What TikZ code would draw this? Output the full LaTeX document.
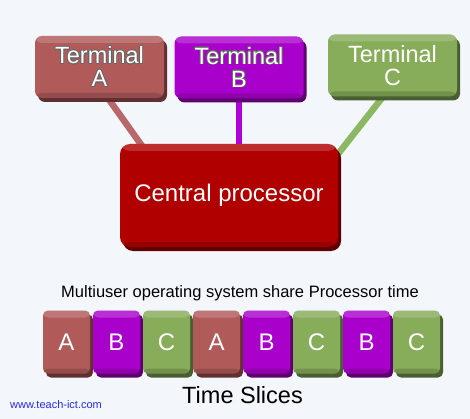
\documentclass[tikz,border=0pt]{standalone}
\usepackage{fontspec}
\setmainfont{Liberation Sans}
\usepackage{contour}
\contourlength{0.7pt}
\usetikzlibrary{shadows,calc}
\pgfdeclarelayer{background}
\pgfsetlayers{background,main}
\definecolor{bgcol}{RGB}{243,247,252}
\definecolor{termA}{RGB}{176,90,90}
\definecolor{termB}{RGB}{170,0,204}
\definecolor{termC}{RGB}{135,172,90}
\definecolor{cpured}{RGB}{176,0,0}
\definecolor{linkA}{RGB}{184,104,104}
\definecolor{linkB}{RGB}{176,0,216}
\definecolor{linkC}{RGB}{140,184,100}
\definecolor{urlblue}{RGB}{40,40,240}
\newcommand\outl[1]{\contour{black!60}{#1}}
\tikzset{
  bevel/.style={fill=#1,draw=none,text=white,
    general shadow={fill=#1!55!black,shadow xshift=3pt,shadow yshift=-4pt},
    path picture={
      \fill[white,opacity=.18] (path picture bounding box.north west) rectangle ([yshift=-7pt]path picture bounding box.north east);
      \fill[black,opacity=.15] (path picture bounding box.south west) rectangle ([yshift=5pt]path picture bounding box.south east);
    }},
  terminal/.style={bevel=#1,rounded corners=7pt,minimum width=129pt,minimum height=62pt,
    align=center,inner sep=0pt,font=\fontsize{23.5}{23}\selectfont},
  slice/.style={bevel=#1,rounded corners=5pt,minimum width=47pt,minimum height=63pt,
    inner sep=0pt,font=\fontsize{24}{24}\selectfont},
  link/.style={line width=6.5pt}
}

\begin{document}
\begin{tikzpicture}[x=1pt,y=-1pt]
    \useasboundingbox (0,0) rectangle (470,419);
    % Terminals and processor
    \node[terminal=termA] (tA) at (99.5,67) {\outl{Terminal}\\\outl{A}};
    \node[terminal=termB] (tB) at (239,67.5) {\outl{Terminal}\\\outl{B}};
    \node[terminal=termC] (tC) at (392.5,65.5) {Terminal\\C};
    \node[bevel=cpured,rounded corners=10pt,minimum width=218pt,minimum height=103pt,
      font=\fontsize{24}{24}\selectfont] (cpu) at (229,195.5) {Central processor};
    % Connections
    \begin{pgfonlayer}{background}
      \fill[bgcol] (0,0) rectangle (470,419);
      \draw[link,linkA] ($(tA.south)+(8.5,0)$) -- ($(cpu.north west)+(25,6)$);
      \draw[link,linkB] (tB.south) -- (tB.south |- cpu.north);
      \draw[link,linkC] ($(tC.south)+(-9.5,0)$) -- ($(cpu.north east)+(0,10)$);
    \end{pgfonlayer}
    % Time slices
    \node[anchor=base,font=\fontsize{16.5}{16.5}\selectfont] (caption) at (240,297)
      {Multiuser operating system share Processor time};
    \foreach \lbl/\col [count=\k from 0] in {A/termA,B/termB,C/termC,A/termA,B/termB,C/termC,B/termB,C/termC}
      \node[slice=\col] (s\k) at (66.5+50*\k,342) {\lbl};
    \node[anchor=base,font=\fontsize{23.5}{23.5}\selectfont] (slicetitle) at (242.5,403) {Time Slices};
    \node[anchor=base west,inner sep=0pt,text=urlblue,font=\fontsize{11}{11}\selectfont] (url) at (10,408)
      {www.teach-ict.com};
  \end{tikzpicture}
\end{document}
